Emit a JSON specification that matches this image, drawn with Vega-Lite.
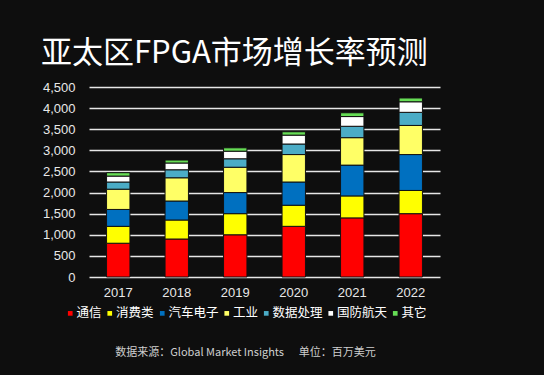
{
  "$schema": "https://vega.github.io/schema/vega-lite/v6.json",
  "width": 351,
  "height": 190,
  "autosize": "none",
  "padding": {"left": 89, "top": 87, "right": 104, "bottom": 98},
  "background": "#0e0e0e",
  "title": {
    "text": "亚太区FPGA市场增长率预测",
    "anchor": "start",
    "frame": "group",
    "dx": -48,
    "offset": 11,
    "font": "Noto Sans CJK SC",
    "fontSize": 31,
    "fontWeight": "normal",
    "color": "#ffffff"
  },
  "data": {
    "values": [
      {"year": "2017", "seg": "通信", "k": 1, "v": 800},
      {"year": "2017", "seg": "消费类", "k": 2, "v": 400},
      {"year": "2017", "seg": "汽车电子", "k": 3, "v": 400},
      {"year": "2017", "seg": "工业", "k": 4, "v": 480},
      {"year": "2017", "seg": "数据处理", "k": 5, "v": 170},
      {"year": "2017", "seg": "国防航天", "k": 6, "v": 140},
      {"year": "2017", "seg": "其它", "k": 7, "v": 80},
      {"year": "2018", "seg": "通信", "k": 1, "v": 900},
      {"year": "2018", "seg": "消费类", "k": 2, "v": 450},
      {"year": "2018", "seg": "汽车电子", "k": 3, "v": 450},
      {"year": "2018", "seg": "工业", "k": 4, "v": 550},
      {"year": "2018", "seg": "数据处理", "k": 5, "v": 190},
      {"year": "2018", "seg": "国防航天", "k": 6, "v": 160},
      {"year": "2018", "seg": "其它", "k": 7, "v": 70},
      {"year": "2019", "seg": "通信", "k": 1, "v": 1000},
      {"year": "2019", "seg": "消费类", "k": 2, "v": 500},
      {"year": "2019", "seg": "汽车电子", "k": 3, "v": 500},
      {"year": "2019", "seg": "工业", "k": 4, "v": 600},
      {"year": "2019", "seg": "数据处理", "k": 5, "v": 200},
      {"year": "2019", "seg": "国防航天", "k": 6, "v": 180},
      {"year": "2019", "seg": "其它", "k": 7, "v": 80},
      {"year": "2020", "seg": "通信", "k": 1, "v": 1200},
      {"year": "2020", "seg": "消费类", "k": 2, "v": 500},
      {"year": "2020", "seg": "汽车电子", "k": 3, "v": 550},
      {"year": "2020", "seg": "工业", "k": 4, "v": 650},
      {"year": "2020", "seg": "数据处理", "k": 5, "v": 250},
      {"year": "2020", "seg": "国防航天", "k": 6, "v": 210},
      {"year": "2020", "seg": "其它", "k": 7, "v": 80},
      {"year": "2021", "seg": "通信", "k": 1, "v": 1400},
      {"year": "2021", "seg": "消费类", "k": 2, "v": 520},
      {"year": "2021", "seg": "汽车电子", "k": 3, "v": 730},
      {"year": "2021", "seg": "工业", "k": 4, "v": 650},
      {"year": "2021", "seg": "数据处理", "k": 5, "v": 270},
      {"year": "2021", "seg": "国防航天", "k": 6, "v": 230},
      {"year": "2021", "seg": "其它", "k": 7, "v": 90},
      {"year": "2022", "seg": "通信", "k": 1, "v": 1500},
      {"year": "2022", "seg": "消费类", "k": 2, "v": 550},
      {"year": "2022", "seg": "汽车电子", "k": 3, "v": 850},
      {"year": "2022", "seg": "工业", "k": 4, "v": 690},
      {"year": "2022", "seg": "数据处理", "k": 5, "v": 310},
      {"year": "2022", "seg": "国防航天", "k": 6, "v": 250},
      {"year": "2022", "seg": "其它", "k": 7, "v": 90}
    ]
  },
  "mark": {"type": "bar", "stroke": "#111111", "strokeWidth": 1},
  "encoding": {
    "x": {
      "field": "year",
      "type": "ordinal",
      "scale": {"paddingInner": 0.6, "paddingOuter": 0.3},
      "axis": {
        "labelAngle": 0,
        "labelColor": "#e8e8e8",
        "labelFont": "Liberation Sans",
        "labelFontSize": 13,
        "labelPadding": 9,
        "ticks": false,
        "domain": false,
        "title": "数据来源：Global Market Insights\u00a0\u00a0\u00a0\u00a0\u00a0\u00a0单位：百万美元",
        "titleFont": "Noto Sans CJK SC",
        "titleFontSize": 11,
        "titleFontWeight": "normal",
        "titleColor": "#cfcfcf",
        "titleX": 156,
        "titleY": 75,
        "titleAlign": "center",
        "titleBaseline": "middle"
      }
    },
    "y": {
      "field": "v",
      "type": "quantitative",
      "stack": "zero",
      "scale": {"domain": [0, 4500]},
      "axis": {
        "values": [0, 500, 1000, 1500, 2000, 2500, 3000, 3500, 4000, 4500],
        "format": ",.0f",
        "title": null,
        "labelColor": "#e8e8e8",
        "labelFont": "Liberation Sans",
        "labelFontSize": 13,
        "labelPadding": 14,
        "ticks": false,
        "domain": false,
        "grid": true,
        "gridColor": "#e6e6e6",
        "gridWidth": 1.5
      }
    },
    "order": {"field": "k", "type": "quantitative"},
    "color": {
      "field": "seg",
      "type": "nominal",
      "sort": ["通信", "消费类", "汽车电子", "工业", "数据处理", "国防航天", "其它"],
      "scale": {
        "domain": ["通信", "消费类", "汽车电子", "工业", "数据处理", "国防航天", "其它"],
        "range": ["#ff0000", "#ffff00", "#0070c0", "#ffff66", "#4bacc6", "#ffffff", "#66dd55"]
      },
      "legend": {
        "orient": "none",
        "direction": "horizontal",
        "legendX": -25,
        "legendY": 220,
        "title": null,
        "symbolType": "square",
        "symbolSize": 22,
        "symbolStrokeWidth": 0,
        "labelColor": "#ffffff",
        "labelFont": "Noto Sans CJK SC",
        "labelFontSize": 12.5,
        "labelOffset": 0,
        "columnPadding": 1.5
      }
    }
  },
  "config": {
    "view": {"stroke": null},
    "axis": {"gridOpacity": 1}
  }
}
